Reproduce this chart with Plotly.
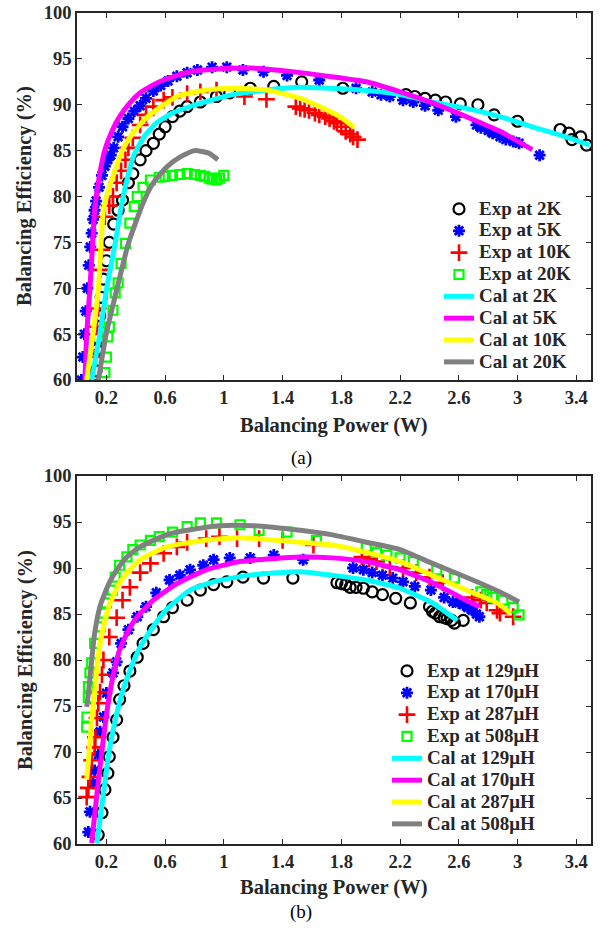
import plotly.graph_objects as go

# ---------------- (a) temperature ----------------
exp2k_x = [0.13,0.135,0.145,0.155,0.165,0.18,0.2,0.22,0.25,0.28,0.31,0.35,0.38,0.43,0.47,0.52,0.56,0.6,0.65,0.7,0.75,0.84,0.95,1.04,1.18,1.34,1.53,1.81,2.24,2.30,2.37,2.44,2.51,2.61,2.73,2.84,3.0,3.29,3.35,3.37,3.43,3.47]
exp2k_y = [61,63.3,64.5,67,69,71,73,75,77,78.5,79.6,81.5,82.5,84,85,85.8,86.8,87.6,88.7,89.3,89.8,90.3,90.9,91.3,91.8,92,92.5,91.8,91.1,90.9,90.7,90.5,90.3,90.1,90,88.9,88.2,87.3,86.9,86.2,86.5,85.6]

exp5k_x = [0.03,0.04,0.05,0.06,0.07,0.08,0.09,0.1,0.11,0.12,0.13,0.15,0.17,0.19,0.21,0.23,0.25,0.28,0.31,0.35,0.39,0.43,0.47,0.52,0.57,0.62,0.68,0.75,0.82,0.92,1.02,1.13,1.27,1.43,1.65,1.9,2.01,2.07,2.13,2.22,2.29,2.37,2.46,2.58,2.72,2.75,2.8,2.83,2.88,2.92,2.97,3.01,3.15]
exp5k_y = [60,62.5,65,67.5,70,72.5,74.5,76,77.5,78.5,79.5,81,82.3,83.3,84,84.5,85.3,86.5,87.6,88.5,89.3,89.9,90.7,91.5,92.1,92.6,93.1,93.5,93.8,94.1,94.1,93.8,93.6,93.2,92.7,91.8,91.4,91.1,90.9,90.5,90.3,89.9,89.4,88.7,87.8,87.5,87.2,86.9,86.5,86.2,86.0,85.8,84.5]

exp10k_x = [0.1,0.12,0.136,0.145,0.16,0.17,0.19,0.22,0.245,0.27,0.3,0.33,0.35,0.38,0.43,0.47,0.52,0.59,0.65,0.75,0.84,0.95,1.14,1.29,1.49,1.52,1.55,1.58,1.62,1.65,1.69,1.72,1.75,1.77,1.8,1.83,1.86,1.88,1.91]
exp10k_y = [60,62.5,65.8,67.8,72,74.2,77.8,79,80,81.5,82.8,84,85.3,86.4,87.8,88.9,89.8,90.5,90.8,91.2,91.4,91.6,90.9,90.6,89.8,89.6,89.5,89.4,89.1,88.9,88.7,88.5,88.2,88.0,87.6,87.1,86.8,86.5,86.2]

exp20k_x = [0.19,0.2,0.21,0.22,0.245,0.26,0.28,0.3,0.33,0.36,0.39,0.41,0.45,0.5,0.56,0.6,0.65,0.7,0.75,0.8,0.84,0.87,0.9,0.92,0.95,0.97,1.0]
exp20k_y = [60.8,62.5,64.7,65.8,67.6,69.5,70.6,72.7,74.9,77.1,78.9,80,81,81.8,82.1,82.2,82.3,82.4,82.5,82.4,82.3,82.2,82.0,81.9,81.8,82.0,82.3]

cal2k_x = [0.1,0.157,0.2,0.26,0.3,0.34,0.39,0.46,0.54,0.65,0.75,0.87,1.06,1.29,1.52,1.93,2.2,2.42,2.65,2.88,3.1,3.33,3.49]
cal2k_y = [60,65.1,69.8,74.9,78.8,81.8,84.6,86.6,88.0,89.1,89.7,90.3,91.1,91.6,91.9,91.6,91.1,90.3,89.6,88.7,87.6,86.5,85.6]

cal5k_x = [0.054,0.066,0.088,0.105,0.12,0.15,0.19,0.24,0.29,0.36,0.43,0.5,0.59,0.77,0.95,1.18,1.52,1.97,2.2,2.42,2.65,2.88,3.1]
cal5k_y = [60,65.0,70.0,74.5,78.5,82.0,85.1,87.2,88.7,90.2,91.3,92.0,92.7,93.6,93.9,94.0,93.5,92.5,91.4,90.2,88.7,87.1,85.1]

cal10k_x = [0.066,0.11,0.145,0.18,0.22,0.31,0.38,0.48,0.68,0.88,1.06,1.29,1.52,1.65,1.79,1.89]
cal10k_y = [60,65.1,69.8,78.5,81.0,85.1,86.9,88.7,90.9,91.6,91.8,91.6,90.7,89.8,88.7,87.5]

cal20k_x = [0.145,0.2,0.27,0.35,0.45,0.52,0.61,0.7,0.8,0.9,0.96]
cal20k_y = [60,65.1,69.8,74.9,79.3,81.5,83.2,84.3,85.0,84.7,84.0]

# ---------------- (b) inductance ----------------
exp129_x = [0.145,0.17,0.19,0.21,0.22,0.245,0.27,0.29,0.32,0.36,0.41,0.45,0.52,0.59,0.65,0.75,0.84,0.93,1.02,1.13,1.27,1.47,1.77,1.8,1.83,1.86,1.9,1.95,2.01,2.08,2.17,2.27,2.4,2.42,2.44,2.47,2.5,2.52,2.55,2.57,2.63]
exp129_y = [61,63.4,65.9,67.7,69.5,71.6,73.5,75.7,77.2,78.8,80.3,81.8,83.3,84.7,85.7,86.5,87.6,88.2,88.5,89.0,88.9,88.9,88.4,88.3,88.2,87.9,87.9,87.8,87.4,87.1,86.7,86.2,85.8,85.3,85.1,84.7,84.6,84.5,84.3,84.0,84.3]

exp170_x = [0.077,0.088,0.11,0.12,0.145,0.157,0.18,0.2,0.245,0.27,0.3,0.35,0.41,0.47,0.54,0.63,0.7,0.77,0.86,0.93,1.04,1.18,1.34,1.54,1.88,1.95,2.01,2.08,2.15,2.22,2.3,2.41,2.5,2.56,2.6,2.63,2.66,2.69,2.72,2.74]
exp170_y = [61.3,63.5,66.6,68.0,69.7,72.2,73.8,76.4,78.6,79.8,81.8,83.3,84.7,85.8,87.3,88.7,89.2,89.8,90.3,90.9,91.1,91.1,91.4,90.9,90.0,89.8,89.5,89.2,88.9,88.5,88.0,87.6,86.8,86.3,86.2,86.0,85.7,85.4,85.0,84.7]

exp287_x = [0.066,0.077,0.088,0.1,0.12,0.125,0.136,0.145,0.157,0.17,0.18,0.22,0.27,0.31,0.36,0.43,0.5,0.59,0.68,0.75,0.88,0.97,1.09,1.24,1.4,1.61,1.94,1.99,2.04,2.13,2.22,2.31,2.4,2.49,2.69,2.75,2.79,2.86,2.88,2.97]
exp287_y = [65.1,66.1,67.3,69.1,70.5,71.6,73.7,75.3,76.5,78.4,80.0,82.5,84.6,86.5,87.9,89.5,90.5,91.6,92.3,92.8,93.2,93.4,93.2,93.2,93.0,92.5,91.2,91.0,90.7,90.1,90.0,89.5,89.0,88.4,86.8,86.5,86.2,85.4,85.1,84.7]

exp508_x = [0.066,0.068,0.077,0.078,0.088,0.1,0.12,0.157,0.18,0.2,0.24,0.26,0.29,0.34,0.38,0.43,0.5,0.56,0.65,0.75,0.84,0.95,1.11,1.24,1.43,1.63,1.97,2.04,2.11,2.2,2.29,2.45,2.57,2.75,2.79,2.83,2.9,2.97,3.01]
exp508_y = [72.7,73.8,75.9,77.1,78.6,79.7,81.8,83.6,85.1,86.2,87.6,89.0,90.3,91.2,92.0,92.5,93.0,93.4,93.9,94.5,94.9,94.9,94.7,94.1,93.9,93.0,92.2,91.7,91.4,91.1,90.7,89.8,88.9,87.4,87.1,86.8,86.5,85.7,84.9]

cal129_x = [0.136,0.18,0.22,0.26,0.3,0.34,0.42,0.5,0.61,0.77,0.93,1.16,1.52,1.74,1.97,2.2,2.42,2.59]
cal129_y = [60.1,65.5,70.2,73.4,76.0,78.0,81.1,83.2,85.5,87.6,88.5,89.2,89.6,89.2,88.7,87.8,86.2,84.3]

cal170_x = [0.1,0.136,0.17,0.2,0.23,0.26,0.29,0.35,0.41,0.52,0.68,0.88,1.11,1.52,1.74,1.97,2.2,2.42,2.65,2.74]
cal170_y = [60.1,65.5,70.2,74.0,77.0,79.3,81.1,83.2,84.7,86.5,88.3,89.8,90.7,91.2,91.1,90.7,89.8,88.4,86.5,85.8]

cal287_x = [0.066,0.088,0.1,0.12,0.14,0.17,0.22,0.29,0.36,0.43,0.61,0.86,1.11,1.52,1.74,1.97,2.2,2.42,2.65,2.86,2.95]
cal287_y = [67.0,71.0,73.5,76.4,79.8,82.9,86.0,88.4,89.8,90.9,92.3,93.0,93.3,92.8,92.5,91.7,90.7,89.2,87.6,86.2,85.1]

cal508_x = [0.066,0.08,0.1,0.12,0.16,0.22,0.28,0.34,0.42,0.52,0.63,0.75,0.97,1.2,1.52,1.74,1.97,2.2,2.42,2.65,2.88,3.01]
cal508_y = [74.9,76.7,80.0,82.9,86.0,88.4,90.0,91.2,92.2,93.0,93.7,94.1,94.6,94.6,94.1,93.6,92.8,92.0,90.5,89.0,87.4,86.3]

xtick_vals = [0.2, 0.6, 1.0, 1.4, 1.8, 2.2, 2.6, 3.0, 3.4]
xtick_text = ["0.2", "0.6", "1", "1.4", "1.8", "2.2", "2.6", "3", "3.4"]
ytick_vals = [60, 65, 70, 75, 80, 85, 90, 95, 100]

FONT = "Liberation Serif"
AX = "#262626"

fig = go.Figure()

def lname(s):
    return "<span style='font-size:19px'>" + s + "</span>"

def exp_trace(x, y, name, symbol, color, size, lw, xa, ya, leg):
    fig.add_trace(go.Scatter(x=x, y=y, mode="markers", name=lname(name),
                             marker=dict(symbol=symbol, size=size, color=color,
                                         line=dict(color=color, width=lw)),
                             xaxis=xa, yaxis=ya, legend=leg))

def cal_trace(x, y, name, color, xa, ya, leg):
    fig.add_trace(go.Scatter(x=x, y=y, mode="lines", name=lname(name),
                             line=dict(color=color, width=5, shape="spline", smoothing=0.5),
                             xaxis=xa, yaxis=ya, legend=leg))

exp_trace(exp2k_x, exp2k_y, "Exp at 2K", "circle-open", "black", 11, 2.2, "x", "y", "legend")
exp_trace(exp5k_x, exp5k_y, "Exp at 5K", "asterisk-open", "blue", 10, 2.8, "x", "y", "legend")
exp_trace(exp10k_x, exp10k_y, "Exp at 10K", "cross-thin-open", "red", 12, 2.6, "x", "y", "legend")
exp_trace(exp20k_x, exp20k_y, "Exp at 20K", "square-open", "#00FF00", 9, 2.2, "x", "y", "legend")
cal_trace(cal2k_x, cal2k_y, "Cal at 2K", "#00FFFF", "x", "y", "legend")
cal_trace(cal5k_x, cal5k_y, "Cal at 5K", "#FF00FF", "x", "y", "legend")
cal_trace(cal10k_x, cal10k_y, "Cal at 10K", "#FFFF00", "x", "y", "legend")
cal_trace(cal20k_x, cal20k_y, "Cal at 20K", "#808080", "x", "y", "legend")

exp_trace(exp129_x, exp129_y, "Exp at 129μH", "circle-open", "black", 11, 2.2, "x2", "y2", "legend2")
exp_trace(exp170_x, exp170_y, "Exp at 170μH", "asterisk-open", "blue", 10, 2.8, "x2", "y2", "legend2")
exp_trace(exp287_x, exp287_y, "Exp at 287μH", "cross-thin-open", "red", 12, 2.6, "x2", "y2", "legend2")
exp_trace(exp508_x, exp508_y, "Exp at 508μH", "square-open", "#00FF00", 9, 2.2, "x2", "y2", "legend2")
cal_trace(cal129_x, cal129_y, "Cal at 129μH", "#00FFFF", "x2", "y2", "legend2")
cal_trace(cal170_x, cal170_y, "Cal at 170μH", "#FF00FF", "x2", "y2", "legend2")
cal_trace(cal287_x, cal287_y, "Cal at 287μH", "#FFFF00", "x2", "y2", "legend2")
cal_trace(cal508_x, cal508_y, "Cal at 508μH", "#808080", "x2", "y2", "legend2")

W, H = 602, 933
def px(xp): return xp / W
def py(yp): return 1 - yp / H

tickfont = dict(family=FONT, size=18.5, color=AX, weight="bold")
common_x = dict(range=[0, 3.5], tickvals=xtick_vals, ticktext=xtick_text, ticks="inside",
                ticklen=5, tickwidth=1.2, tickcolor=AX, showline=True, linecolor=AX, linewidth=1.5,
                mirror="ticks", showgrid=False, zeroline=False, tickfont=tickfont, automargin=False,
                ticklabeloverflow="allow")
common_y = dict(range=[60, 100], tickvals=ytick_vals, ticks="inside",
                ticklen=5, tickwidth=1.2, tickcolor=AX, showline=True, linecolor=AX, linewidth=1.5,
                mirror="ticks", showgrid=False, zeroline=False, tickfont=tickfont, automargin=False,
                ticklabeloverflow="allow")

legfont = dict(family=FONT, size=14.5, color=AX, weight="bold")

fig.update_layout(
    width=W, height=H, margin=dict(l=0, r=0, t=0, b=0, autoexpand=False),
    paper_bgcolor="white", plot_bgcolor="white", showlegend=True,
    xaxis=dict(domain=[px(77), px(591)], anchor="y", **common_x),
    yaxis=dict(domain=[py(380), py(13)], anchor="x", **common_y),
    xaxis2=dict(domain=[px(77), px(591)], anchor="y2", **common_x),
    yaxis2=dict(domain=[py(844), py(476)], anchor="x2", **common_y),
    legend=dict(x=px(439), y=py(193), xanchor="left", yanchor="top", font=legfont,
                bgcolor="rgba(0,0,0,0)", tracegroupgap=0, itemwidth=30),
    legend2=dict(x=px(387), y=py(655), xanchor="left", yanchor="top", font=legfont,
                 bgcolor="rgba(0,0,0,0)", tracegroupgap=0, itemwidth=30),
)

ann = []
titlefont = dict(family=FONT, size=20.5, color=AX, weight="bold")
for ycen_x, ycen_y in [(425, 196), (887, 660)]:
    ann.append(dict(text="Balancing Power (W)", x=px(334), y=py(ycen_x), xref="paper", yref="paper",
                    showarrow=False, font=titlefont, xanchor="center", yanchor="middle"))
    ann.append(dict(text="Balancing Efficiency (%)", x=px(25), y=py(ycen_y), xref="paper", yref="paper",
                    showarrow=False, font=titlefont, textangle=-90, xanchor="center", yanchor="middle"))
ann.append(dict(text="(a)", x=px(301), y=py(458), xref="paper", yref="paper", showarrow=False,
                font=dict(family=FONT, size=19, color="black"), xanchor="center", yanchor="middle"))
ann.append(dict(text="(b)", x=px(301), y=py(912), xref="paper", yref="paper", showarrow=False,
                font=dict(family=FONT, size=19, color="black"), xanchor="center", yanchor="middle"))
fig.update_layout(annotations=ann)

fig.write_html("out.html", config={"displayModeBar": False},
               post_script="document.body.style.margin='0';")
